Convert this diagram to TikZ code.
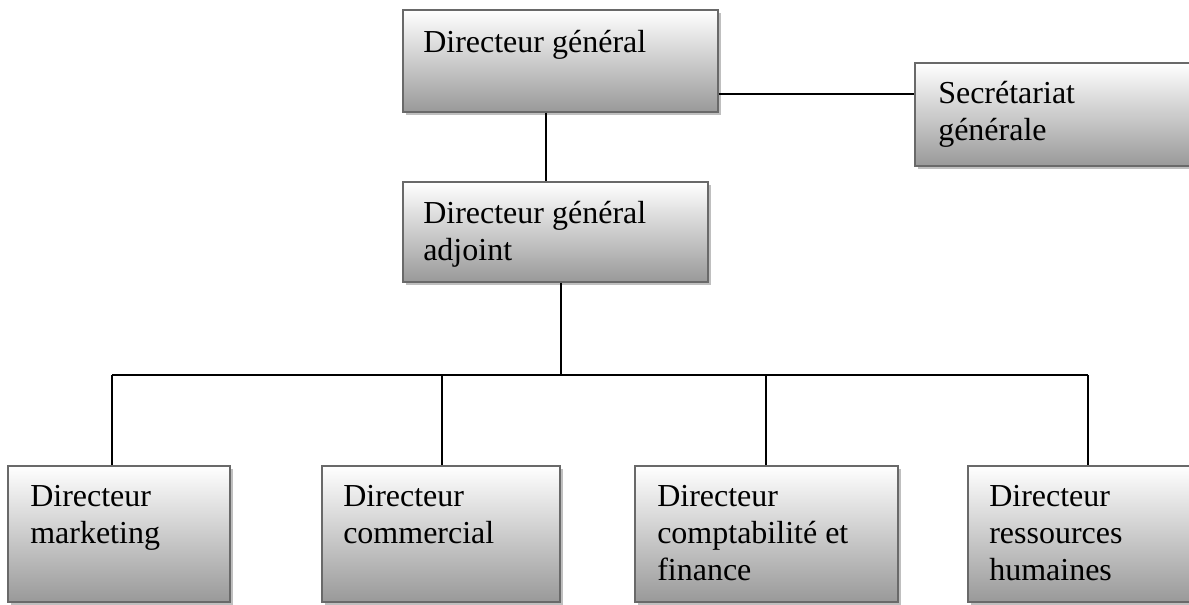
\documentclass[tikz,border=0pt]{standalone}
\usepackage{fontspec}
\setmainfont{Liberation Serif}
\usetikzlibrary{fit,shadows}

\definecolor{boxedge}{RGB}{105,105,105}
\newcommand\orglines[1]{\begin{tabular}[t]{@{}l@{}}#1\end{tabular}}

\tikzset{
  orgbox/.style={draw=boxedge, line width=1.1pt, inner sep=0pt,
    top color=white, middle color=black!13, bottom color=black!40,
    drop shadow={shadow xshift=2.4pt, shadow yshift=-2.4pt, fill=black!25, opacity=1}},
  orgtext/.style={anchor=base west, inner sep=0pt,
    font=\fontsize{24}{27.75}\selectfont},
  link/.style={line width=1pt, draw=black}
}

\begin{document}
\begin{tikzpicture}[x=0.75pt, y=-0.75pt]
  \useasboundingbox (0,0) rectangle (1189,604);
  \clip (0,0) rectangle (1189,604);

  % boxes
  \node[orgbox, fit={(403,10) (718,112)}]  (gen) {};
  \node[orgbox, fit={(915,63) (1205,166)}] (sec) {};
  \node[orgbox, fit={(403,182) (708,282)}] (adj) {};
  \node[orgbox, fit={(8,466) (230,602)}]   (mkt) {};
  \node[orgbox, fit={(322,466) (560,602)}] (com) {};
  \node[orgbox, fit={(635,466) (898,602)}] (cpt) {};
  \node[orgbox, fit={(968,466) (1205,602)}] (rh) {};

  % labels
  \node[orgtext] (tgen) at (423,52)  {\orglines{Directeur général}};
  \node[orgtext] (tsec) at (938,103) {\orglines{Secrétariat\\générale}};
  \node[orgtext] (tadj) at (423,223) {\orglines{Directeur général\\adjoint}};
  \node[orgtext] (tmkt) at (30,506)  {\orglines{Directeur\\marketing}};
  \node[orgtext] (tcom) at (343,506) {\orglines{Directeur\\commercial}};
  \node[orgtext] (tcpt) at (657,506) {\orglines{Directeur\\comptabilité et\\finance}};
  \node[orgtext] (trh)  at (989,506) {\orglines{Directeur\\ressources\\humaines}};

  % connector routing points
  \coordinate (vgen) at (546,0);
  \coordinate (hsec) at (0,94);
  \coordinate (bus) at (561,375);
  \coordinate (d1) at (112,375);
  \coordinate (d2) at (442,375);
  \coordinate (d3) at (766,375);
  \coordinate (d4) at (1088,375);

  % connectors
  \draw[link] (gen.south -| vgen) -- (adj.north -| vgen);
  \draw[link] (gen.east |- hsec) -- (sec.west |- hsec);
  \draw[link] (adj.south -| bus) -- (bus);
  \draw[link] (d1) -- (d4);
  \draw[link] (d1) -- (mkt.north -| d1);
  \draw[link] (d2) -- (com.north -| d2);
  \draw[link] (d3) -- (cpt.north -| d3);
  \draw[link] (d4) -- (rh.north -| d4);
\end{tikzpicture}
\end{document}
